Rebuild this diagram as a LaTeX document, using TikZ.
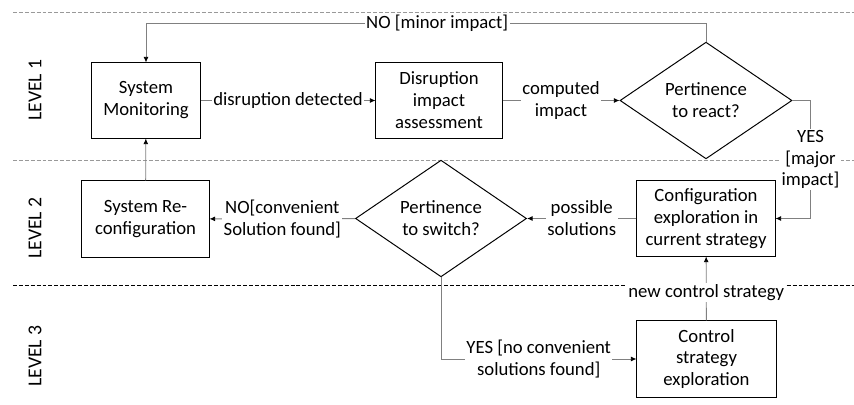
\documentclass[tikz,border=0pt]{standalone}
\usepackage{fontspec}
\setmainfont{Carlito}
\usetikzlibrary{shapes.geometric, arrows.meta}
\definecolor{linegray}{gray}{0.5}
\definecolor{dashgray}{gray}{0.6}

\begin{document}
\begin{tikzpicture}[x=0.025cm, y=-0.025cm, font=\fontsize{13.3}{15.6}\selectfont,
        box/.style = {draw, line width=0.7pt, align=center, inner sep=0pt},
        decision/.style = {draw, diamond, line width=0.7pt, align=center, inner sep=0pt, minimum width=4.3cm, minimum height=2.55cm},
        conn/.style = {draw=linegray, line width=0.6pt, -{Latex[length=4pt, width=3.5pt, black]}},
        lbl/.style = {fill=white, align=center, inner sep=1pt},
        level/.style = {rotate=90, font=\fontsize{14}{16}\selectfont},
        sep/.style = {dashgray, line width=0.6pt, dash pattern=on 2.8pt off 1.4pt}]
        \useasboundingbox (0, 0) rectangle (854, 405);
        % level separators
        \draw [sep] (13, 12) -- (854, 12);
        \draw [sep] (13, 160) -- (854, 160);
        \draw [sep, black] (13, 285) -- (854, 285);
        \node [level] (lvl1) at (35, 90) {LEVEL 1};
        \node [level] (lvl2) at (35, 228) {LEVEL 2};
        \node [level] (lvl3) at (35, 356) {LEVEL 3};
        % boxes
        \node [box, minimum width=2.7cm, minimum height=1.875cm] (monitor) at (146, 100.5) {System\\Monitoring};
        \node [box, minimum width=3.15cm, minimum height=1.875cm] (assess) at (439, 100.5) {Disruption\\impact\\assessment};
        \node [decision] (react) at (706, 100.5) {Pertinence\\to react?};
        \node [box, minimum width=3.45cm, minimum height=1.875cm] (config) at (706, 218.5) {Configuration\\exploration in\\current strategy};
        \node [decision, minimum width=4.275cm] (switch) at (441, 218.5) {Pertinence\\to switch?};
        \node [box, minimum width=3.175cm, minimum height=1.9cm] (reconf) at (145.5, 219) {System Re-\\configuration};
        \node [box, minimum width=3.475cm, minimum height=1.9cm] (control) at (706.5, 359) {Control\\strategy\\exploration};
        % connectors
        \draw [conn] (monitor) -- node [lbl] {disruption detected} (assess);
        \draw [conn] (assess) -- node [lbl] {computed\\impact} (react);
        \draw [conn] (react.north) -- ++(0, -18) -| node [lbl, pos=0.24] {NO [minor impact]} (monitor.north);
        \draw [conn] (react.east) -- ++(18, 0) |- node [lbl, pos=0.25] {YES\\{[major}\\impact]} (config.east);
        \draw [conn] (config) -- node [lbl] {possible\\solutions} (switch);
        \draw [conn] (switch) -- node [lbl] {NO[convenient\\Solution found]} (reconf);
        \draw [conn] (reconf) -- (monitor);
        \draw [conn] (switch.south) |- node [lbl, pos=0.75] {YES [no convenient\\solutions found]} (control.west);
        \draw [conn] (control) -- node [lbl, pos=0.43] {new control strategy} (config);
    \end{tikzpicture}
\end{document}
